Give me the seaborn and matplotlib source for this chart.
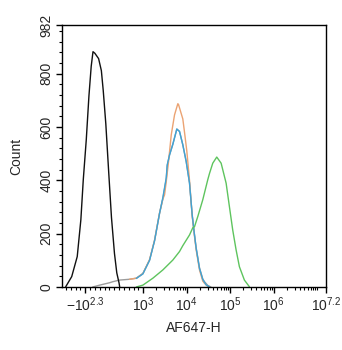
import matplotlib
matplotlib.use("Agg")
import matplotlib.pyplot as plt
import numpy as np
import pandas as pd
import seaborn as sns
from matplotlib.ticker import FixedLocator, NullFormatter

sns.set_style("ticks")
plt.rcParams["font.family"] = ["Liberation Sans", "DejaVu Sans"]
plt.rcParams["axes.unicode_minus"] = False
plt.rcParams["mathtext.fontset"] = "custom"
plt.rcParams["mathtext.rm"] = "Liberation Sans"
plt.rcParams["mathtext.it"] = "Liberation Sans:italic"

# значения (интенсивность, число событий)
black_x = [-603, -479, -365, -290, -240, -178, -123, -76, -39, 0, 77, 134, 173, 226, 288, 343, 405, 453, 500, 513]
black_y = [1, 39, 114, 252, 402, 552, 716, 827, 882, 876, 856, 811, 736, 612, 424, 261, 126, 53, 15, 1]

gray_x = [-45, 99, 305, 374, 512, 718, 857, 993, 1399, 1822, 2372, 2824, 3379, 3562, 4023, 4788, 5915,
          6823, 8120, 9716, 11570, 13340, 15070, 16480, 19620, 23350, 25540, 30400, 36000]
gray_y = [0, 7, 16, 20, 26, 29, 33, 51, 101, 176, 277, 330, 405, 455, 495, 535, 592,
          583, 533, 470, 390, 270, 195, 145, 72, 30, 20, 6, 0]

orange_x = [718, 857, 993, 1399, 1822, 2372, 2824, 3089, 3379, 3816, 4401, 5238, 6236, 6470,
            7462, 8120, 8883, 10030, 11570, 13340, 15070, 16480, 19620, 23350, 25540, 30400]
orange_y = [29, 33, 50, 103, 174, 277, 330, 345, 395, 470, 570, 645, 687, 684,
            650, 630, 580, 510, 400, 265, 190, 139, 64, 22, 14, 2]

blue_x = [857, 993, 1399, 1822, 2372, 2824, 3379, 3562, 4023, 4788, 5915, 6823, 8120, 9716,
          11570, 13340, 15070, 16480, 19620, 23350, 27940, 33250]
blue_y = [32, 49, 100, 173, 276, 335, 409, 458, 495, 535, 592, 583, 533, 470,
          390, 270, 195, 145, 70, 28, 8, 0]

green_x = [857, 993, 1665, 2824, 4788, 6823, 8120, 11570, 13770, 15070, 17930, 23350, 30400, 33250,
           39600, 48920, 61700, 80350, 95640, 113800, 136200, 162200, 211200, 275000]
green_y = [0, 7, 33, 64, 101, 133, 155, 195, 222, 226, 264, 327, 402, 425,
           464, 487, 464, 389, 301, 214, 139, 76, 26, 1]

x_major = [-200, 1e3, 1e4, 1e5, 1e6, 10 ** 7.2]
x_labels = ["$-10^{2.3}$", "$10^3$", "$10^4$", "$10^5$", "$10^6$", "$10^{7.2}$"]
y_major = [0, 200, 400, 600, 800, 982]

fig = plt.figure(figsize=(3.42, 3.5), dpi=100)
ax = fig.add_axes([62 / 342, 63 / 350, 264 / 342, 262 / 350])

curves = [
    (gray_x, gray_y, "#9c9c9c"),
    (orange_x, orange_y, "#eba373"),
    (blue_x, blue_y, "#3fa3d6"),
    (green_x, green_y, "#5ec45e"),
    (black_x, black_y, "#111111"),
]
for xs, ys, col in curves:
    df = pd.DataFrame({"x": xs, "count": ys})
    sns.lineplot(data=df, x="x", y="count", color=col, linewidth=1.0,
                 estimator=None, sort=False, ax=ax)

ax.set_xscale("symlog", linthresh=1000, linscale=1)
ax.set_xlim(-680, 10 ** 7.2)
ax.set_ylim(0, 982)

# деления по оси X
minors = list(range(-600, 1000, 100))
for k in range(3, 7):
    minors += [m * 10 ** k for m in range(2, 10)]
minors += [1e7]
ax.xaxis.set_major_locator(FixedLocator(x_major))
ax.set_xticklabels(x_labels)
ax.xaxis.set_minor_locator(FixedLocator(minors))
ax.xaxis.set_minor_formatter(NullFormatter())

ax.yaxis.set_major_locator(FixedLocator(y_major))
ax.yaxis.set_minor_locator(FixedLocator(list(range(40, 982, 40))))
ax.set_yticklabels([str(v) for v in y_major], rotation=90, va="center")

ax.tick_params(axis="both", which="major", length=4, width=1, labelsize=10, color="black", pad=2)
ax.tick_params(axis="both", which="minor", length=2.5, width=0.8, color="black")

for sp in ax.spines.values():
    sp.set_visible(True)
    sp.set_color("black")
    sp.set_linewidth(1.0)

ax.set_xlabel("AF647-H", fontsize=10, labelpad=5)
ax.set_ylabel("Count", fontsize=10, labelpad=12)
ax.grid(False)

fig.savefig("out.png", dpi=100, facecolor="white")
